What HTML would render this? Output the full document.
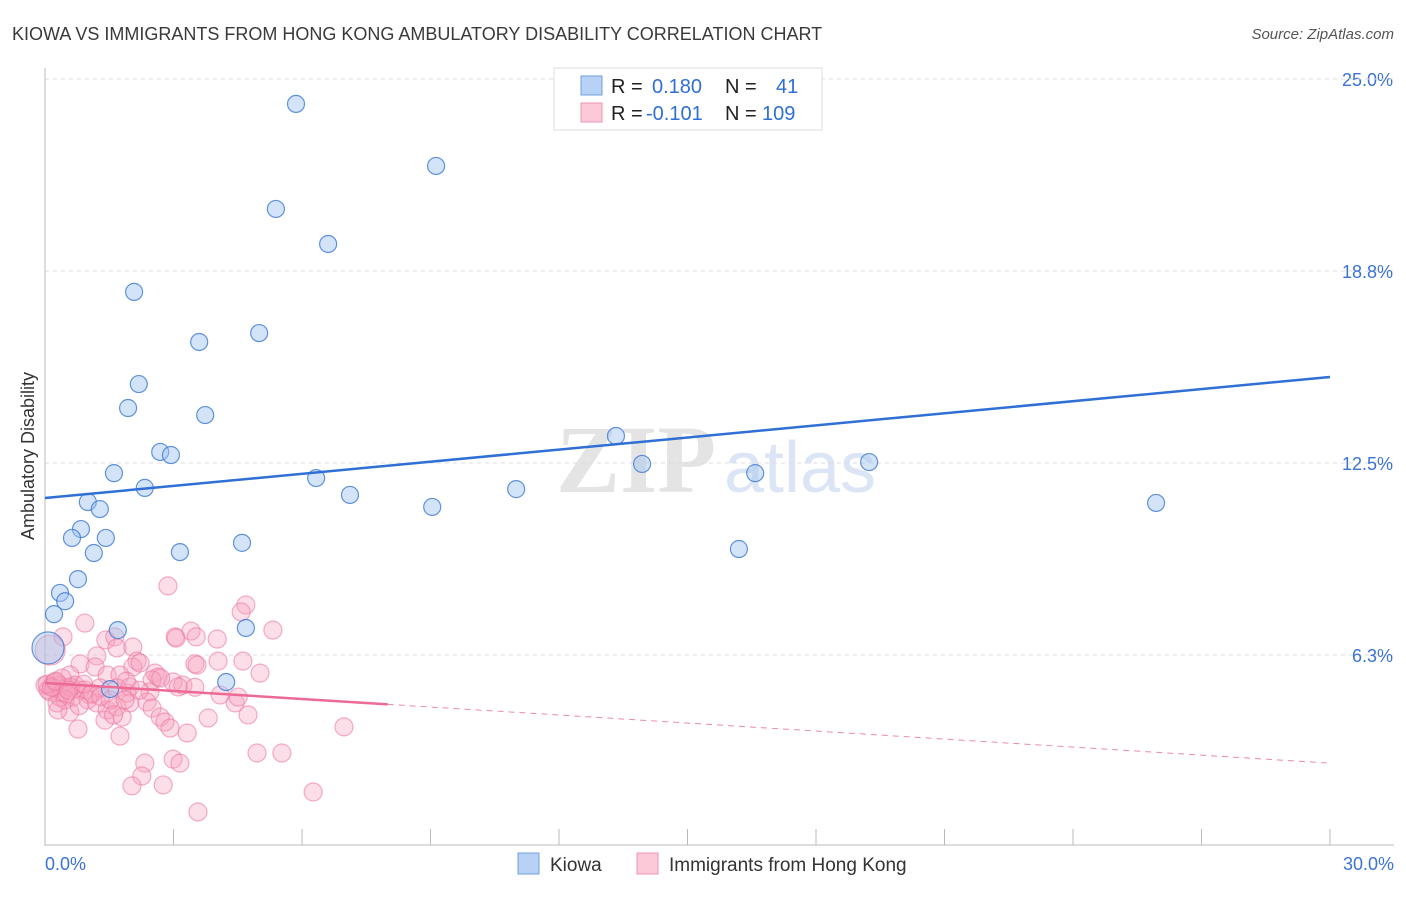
<!DOCTYPE html>
<html><head><meta charset="utf-8"><style>
body{margin:0;background:#fff;font-family:"Liberation Sans",sans-serif;}
</style></head><body>
<svg width="1406" height="892" xmlns="http://www.w3.org/2000/svg" font-family="Liberation Sans, sans-serif">
<text x="12" y="40" font-size="18" fill="#3a3a3a">KIOWA VS IMMIGRANTS FROM HONG KONG AMBULATORY DISABILITY CORRELATION CHART</text>
<text x="1394" y="39" font-size="15" fill="#555" font-style="italic" text-anchor="end">Source: ZipAtlas.com</text>
<text x="636" y="492" font-size="96" fill="#e4e4e4" font-family="Liberation Serif, serif" font-weight="bold" text-anchor="middle">ZIP</text>
<text x="800" y="492" font-size="72" fill="#dbe5f5" text-anchor="middle">atlas</text>
<g id="grid"></g>
<g id="axes"></g>
<g id="marks"></g>
<text transform="translate(34,456) rotate(-90)" font-size="18" fill="#333" text-anchor="middle">Ambulatory Disability</text>
<g>
<rect x="554" y="68" width="268" height="62" fill="#fff" stroke="#ddd"/>
<rect x="581" y="76" width="21" height="19" fill="#b8d2f5" stroke="#6f9fe0"/>
<rect x="581" y="103" width="21" height="19" fill="#fbc9d8" stroke="#ee94b2"/>
<text x="611" y="93" font-size="20" fill="#222">R = <tspan fill="#2f6fd6" x="652">0.180</tspan></text>
<text x="725" y="93" font-size="20" fill="#222">N = <tspan fill="#2f6fd6" x="776">41</tspan></text>
<text x="611" y="120" font-size="20" fill="#222">R = <tspan fill="#2f6fd6" x="646">-0.101</tspan></text>
<text x="725" y="120" font-size="20" fill="#222">N = <tspan fill="#2f6fd6" x="762">109</tspan></text>
</g>
<g>
<rect x="518" y="853" width="21" height="21" fill="#b8d2f5" stroke="#6f9fe0"/>
<text x="550" y="871" font-size="19" fill="#333">Kiowa</text>
<rect x="637" y="853" width="21" height="21" fill="#fbc9d8" stroke="#ee94b2"/>
<text x="669" y="871" font-size="19" fill="#333">Immigrants from Hong Kong</text>
</g>
</svg>
<script>
const yTicks=[6.25,12.5,18.75,25];
const yTickLabels=["6.3%","12.5%","18.8%","25.0%"];
const xTickVals=[0,3,6,9,12,15,18,21,24,27,30];
const xEndLabels=["0.0%","30.0%"];
const kiowaX=[5.86,9.13,5.39,6.61,2.08,5.0,3.6,2.19,1.94,3.74,2.69,2.94,13.33,13.94,19.24,16.58,1.61,2.33,6.33,11.0,7.12,1.0,1.28,9.04,25.94,0.84,0.63,1.42,4.6,3.15,1.14,16.2,0.77,0.35,0.47,0.21,1.7,4.69,0.07,1.52,4.23];
const kiowaY=[24.19,22.17,20.77,19.63,18.07,16.73,16.44,15.07,14.29,14.06,12.86,12.76,13.38,12.47,12.53,12.17,12.17,11.69,12.01,11.65,11.46,11.23,11.0,11.07,11.2,10.35,10.06,10.06,9.9,9.6,9.57,9.7,8.72,8.27,8.0,7.58,7.06,7.13,6.48,5.14,5.37];
const hkX=[2.87,4.69,4.58,0.93,0.42,5.32,3.04,3.06,3.41,3.53,4.02,1.42,1.63,1.68,2.05,0.12,1.21,3.5,3.55,4.04,4.62,5.02,0.82,2.15,2.05,2.22,1.17,0.58,1.45,1.75,2.57,2.64,2.5,2.99,3.22,3.11,0.19,0.35,0.12,0.51,0.82,1.05,0.65,1.68,1.98,1.91,1.21,1.45,1.68,1.98,0.28,0.58,0.35,2.45,2.38,2.5,4.09,4.44,4.51,4.74,3.81,1.4,1.8,2.69,2.8,2.92,0.77,1.75,3.32,2.33,2.99,3.15,2.26,2.03,2.76,4.95,5.53,6.26,3.57,6.98,0,0.07,0.23,0.4,0.7,0.93,1.28,1.52,1.87,1.0,0.47,0.3,0.6,0.9,1.1,1.3,0.2,0.5,2.2,2.7,3.5,1.6,0.8,0.4,1.9,0.05,0.15,0.25,0.55];
const hkY=[8.5,7.88,7.65,7.29,6.84,7.06,6.84,6.8,7.03,6.84,6.77,6.74,6.84,6.48,6.51,6.41,6.22,5.96,5.92,6.05,6.05,5.66,5.96,6.05,5.86,5.99,5.86,5.6,5.6,5.6,5.66,5.53,5.44,5.37,5.27,5.21,5.34,5.27,5.05,5.18,5.11,4.95,4.88,5.18,5.21,5.01,4.69,4.46,4.56,4.69,4.69,4.39,4.88,5.05,4.72,4.52,4.95,4.69,4.88,4.3,4.2,4.13,4.23,4.23,4.07,3.87,3.84,3.61,3.71,2.73,2.86,2.73,2.31,1.99,2.02,3.06,3.06,1.79,1.14,3.91,5.27,5.11,5.37,5.05,5.27,5.11,5.18,4.79,4.79,4.79,4.79,4.46,5.2,5.3,5.0,4.9,5.2,5.0,5.1,5.5,5.2,4.3,4.6,5.5,5.4,5.3,5.2,5.4,5.1];
const kiowaTrend=[11.36,15.30];
const hkTrend=[5.34,2.73];
const hkSolidEnd=8;
const NS="http://www.w3.org/2000/svg";
const X=v=>45+v*(1285/30), Y=v=>847-v*30.72;
function mk(tag,attrs,parent){const e=document.createElementNS(NS,tag);for(const k in attrs)e.setAttribute(k,attrs[k]);document.getElementById(parent).appendChild(e);return e;}
yTicks.forEach((t,i)=>{
 const l=mk('line',{x1:45,x2:1394,y1:Y(t),y2:Y(t),stroke:'#ddd','stroke-dasharray':'4,4'},'grid');
 
 
 const tx=mk('text',{x:1393,y:Y(t)+7,'font-size':18,fill:'#3b73d4','text-anchor':'end'},'grid');
 tx.textContent=yTickLabels[i];
 
 
});
const topLine=mk('line',{x1:45,x2:1394,y1:79,y2:79,stroke:'#ddd','stroke-dasharray':'4,4'},'grid');


const ya=mk('line',{x1:45,x2:45,y1:68,y2:846,stroke:'#bbb'},'axes');


const xa=mk('line',{x1:45,x2:1394,y1:845,y2:845,stroke:'#bbb'},'axes');


xTickVals.forEach(v=>{
 const t=mk('line',{x1:X(v),x2:X(v),y1:829,y2:845,stroke:'#bbb'},'axes');
 
 
});
[[0,'start',45],[30,'end',1394]].forEach((a,i)=>{
 const t=mk('text',{x:a[2],y:870,'font-size':18,fill:'#3b73d4','text-anchor':a[1]},'axes');
 t.textContent=xEndLabels[i];
 
 
});
hkX.forEach((x,i)=>{
 const c=mk('circle',{cx:X(x),cy:Y(hkY[i]),r:(i==15?15:9),fill:'rgba(246,160,190,0.35)',stroke:'rgba(236,120,160,0.6)','stroke-width':1.2},'marks');
 
 
});
kiowaX.forEach((x,i)=>{
 const c=mk('circle',{cx:X(x),cy:Y(kiowaY[i]),r:(i==38?16:8.5),fill:'rgba(160,195,240,0.45)',stroke:'rgba(60,120,210,0.8)','stroke-width':1.2},'marks');
 
 
});
const kt=mk('line',{x1:X(0),y1:Y(kiowaTrend[0]),x2:X(30),y2:Y(kiowaTrend[1]),stroke:'#2f6fd6','stroke-width':2.5},'marks');


const hAt=v=>hkTrend[0]+(hkTrend[1]-hkTrend[0])*v/30;
const hs=mk('line',{x1:X(0),y1:Y(hAt(0)),x2:X(hkSolidEnd),y2:Y(hAt(hkSolidEnd)),stroke:'#ec6a94','stroke-width':2.5},'marks');


const hd=mk('line',{x1:X(hkSolidEnd),y1:Y(hAt(hkSolidEnd)),x2:X(30),y2:Y(hAt(30)),stroke:'#ec8aaa','stroke-width':1,'stroke-dasharray':'6,5'},'marks');


</script>
</body></html>
